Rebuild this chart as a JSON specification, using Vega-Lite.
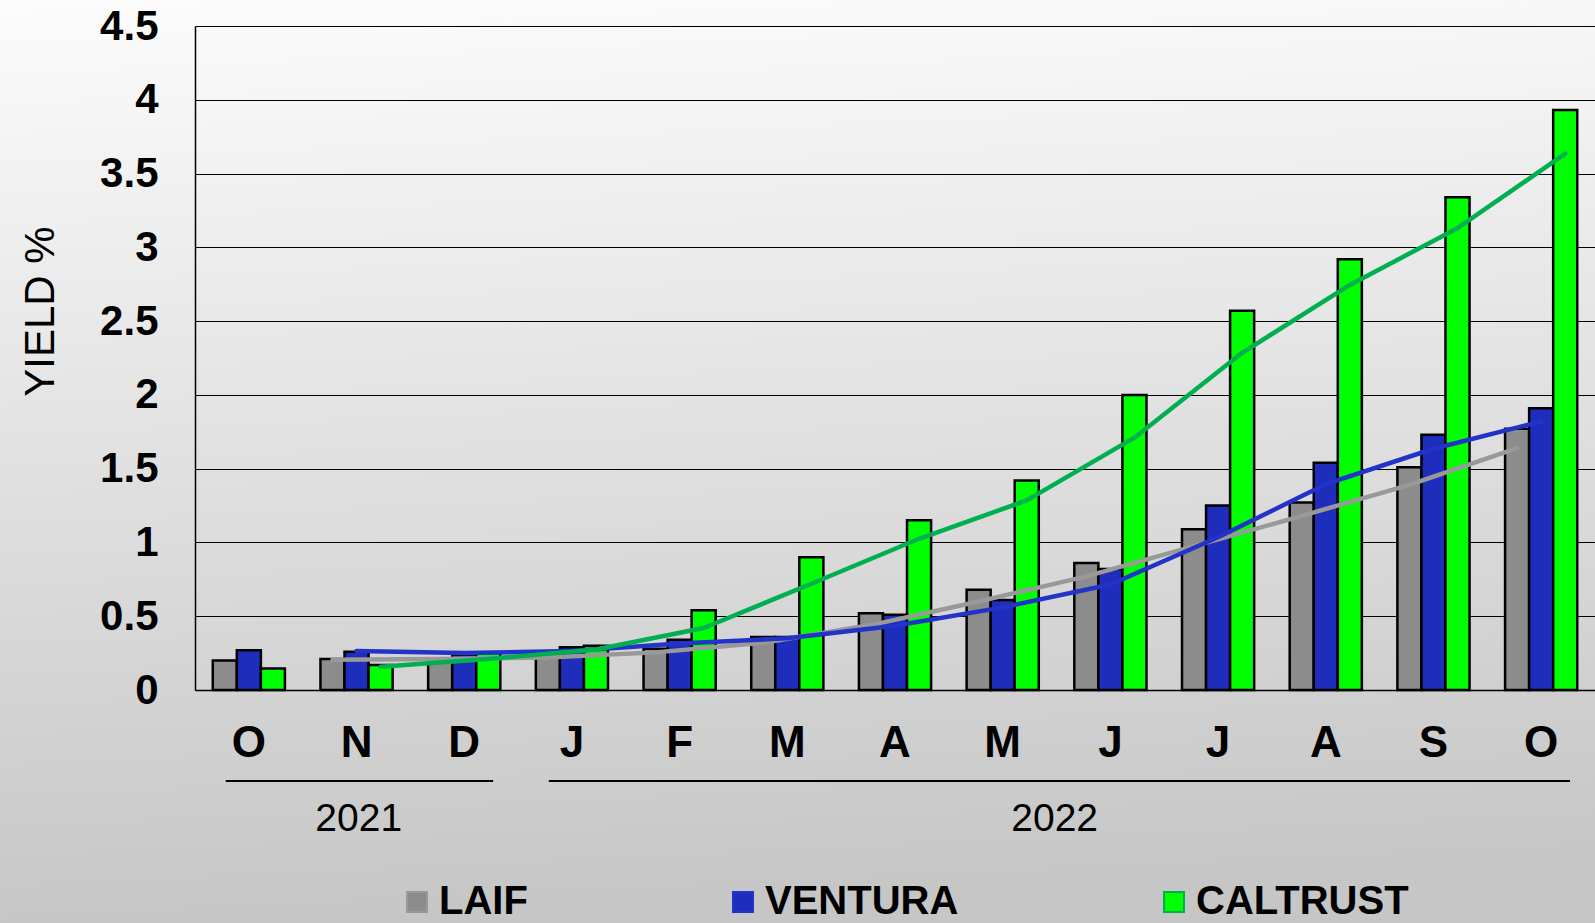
{
  "$schema": "https://vega.github.io/schema/vega-lite/v6.json",
  "autosize": {"type": "none"},
  "padding": 0,
  "width": 1595,
  "height": 923,
  "background": "#e0e0e0",
  "view": {
    "stroke": null,
    "fill": {
      "gradient": "linear",
      "x1": 0, "y1": 0, "x2": 0.08, "y2": 1,
      "stops": [
        {"offset": 0, "color": "#fcfcfc"},
        {"offset": 1, "color": "#c6c6c6"}
      ]
    }
  },
  "config": {
    "font": "Liberation Sans",
    "legend": {
      "orient": "none",
      "legendX": 397,
      "legendY": 882,
      "direction": "horizontal",
      "title": null,
      "labelFont": "Liberation Sans",
      "labelFontWeight": "bold",
      "labelFontSize": 40,
      "labelColor": "black",
      "labelOffset": 2,
      "labelLimit": 500,
      "symbolType": "square",
      "symbolSize": 400,
      "symbolStrokeColor": "black",
      "symbolStrokeWidth": 2,
      "symbolOpacity": 1,
      "columnPadding": 195,
      "padding": 0
    }
  },
  "datasets": {
    "yields": [
      {"idx": 1, "series": "LAIF", "value": 0.20},
      {"idx": 1, "series": "VENTURA", "value": 0.27},
      {"idx": 1, "series": "CALTRUST", "value": 0.145},
      {"idx": 2, "series": "LAIF", "value": 0.21},
      {"idx": 2, "series": "VENTURA", "value": 0.26},
      {"idx": 2, "series": "CALTRUST", "value": 0.17},
      {"idx": 3, "series": "LAIF", "value": 0.21},
      {"idx": 3, "series": "VENTURA", "value": 0.24},
      {"idx": 3, "series": "CALTRUST", "value": 0.25},
      {"idx": 4, "series": "LAIF", "value": 0.23},
      {"idx": 4, "series": "VENTURA", "value": 0.29},
      {"idx": 4, "series": "CALTRUST", "value": 0.30},
      {"idx": 5, "series": "LAIF", "value": 0.28},
      {"idx": 5, "series": "VENTURA", "value": 0.34},
      {"idx": 5, "series": "CALTRUST", "value": 0.54},
      {"idx": 6, "series": "LAIF", "value": 0.36},
      {"idx": 6, "series": "VENTURA", "value": 0.36},
      {"idx": 6, "series": "CALTRUST", "value": 0.90},
      {"idx": 7, "series": "LAIF", "value": 0.52},
      {"idx": 7, "series": "VENTURA", "value": 0.51},
      {"idx": 7, "series": "CALTRUST", "value": 1.15},
      {"idx": 8, "series": "LAIF", "value": 0.68},
      {"idx": 8, "series": "VENTURA", "value": 0.61},
      {"idx": 8, "series": "CALTRUST", "value": 1.42},
      {"idx": 9, "series": "LAIF", "value": 0.86},
      {"idx": 9, "series": "VENTURA", "value": 0.82},
      {"idx": 9, "series": "CALTRUST", "value": 2.00},
      {"idx": 10, "series": "LAIF", "value": 1.09},
      {"idx": 10, "series": "VENTURA", "value": 1.25},
      {"idx": 10, "series": "CALTRUST", "value": 2.57},
      {"idx": 11, "series": "LAIF", "value": 1.27},
      {"idx": 11, "series": "VENTURA", "value": 1.54},
      {"idx": 11, "series": "CALTRUST", "value": 2.92},
      {"idx": 12, "series": "LAIF", "value": 1.51},
      {"idx": 12, "series": "VENTURA", "value": 1.73},
      {"idx": 12, "series": "CALTRUST", "value": 3.34},
      {"idx": 13, "series": "LAIF", "value": 1.77},
      {"idx": 13, "series": "VENTURA", "value": 1.91},
      {"idx": 13, "series": "CALTRUST", "value": 3.93}
    ],
    "years": [
      {"year": "2021", "first": 1, "last": 3},
      {"year": "2022", "first": 4, "last": 13}
    ]
  },
  "layer": [
    {
      "data": {"name": "yields"},
      "mark": {"type": "bar", "stroke": "black", "strokeWidth": 2.5, "opacity": 1},
      "encoding": {
        "x": {
          "field": "idx",
          "type": "ordinal",
          "scale": {"paddingInner": 0.33, "paddingOuter": 0.165, "range": [195, 1595]},
          "axis": {
            "title": null,
            "offset": -233,
            "labelExpr": "['O','N','D','J','F','M','A','M','J','J','A','S','O'][datum.value - 1]",
            "labelAngle": 0,
            "labelFont": "Liberation Sans",
            "labelFontWeight": "bold",
            "labelFontSize": 44,
            "labelColor": "black",
            "labelPadding": 31,
            "labelBaseline": "top",
            "ticks": false,
            "tickSize": 0,
            "domain": true,
            "domainColor": "black",
            "domainWidth": 1.5,
            "grid": false
          }
        },
        "xOffset": {
          "field": "series",
          "type": "nominal",
          "sort": ["LAIF", "VENTURA", "CALTRUST"]
        },
        "y": {
          "field": "value",
          "type": "quantitative",
          "scale": {"domain": [0, 4.5], "nice": false, "zero": true, "range": [690, 26]},
          "axis": {
            "title": "YIELD %",
            "offset": -195,
            "titleFont": "Liberation Sans",
            "titleFontWeight": "normal",
            "titleFontSize": 42,
            "titleColor": "black",
            "titlePadding": 37,
            "titleY": 311,
            "values": [0, 0.5, 1, 1.5, 2, 2.5, 3, 3.5, 4, 4.5],
            "format": "~g",
            "labelFont": "Liberation Sans",
            "labelFontWeight": "bold",
            "labelFontSize": 42,
            "labelColor": "black",
            "labelPadding": 37,
            "labelFlush": false,
            "ticks": false,
            "tickSize": 0,
            "domain": true,
            "domainColor": "black",
            "domainWidth": 1.5,
            "grid": true,
            "gridColor": "black",
            "gridWidth": 1.2,
            "gridOpacity": 1
          }
        },
        "color": {
          "field": "series",
          "type": "nominal",
          "sort": ["LAIF", "VENTURA", "CALTRUST"],
          "scale": {
            "domain": ["LAIF", "VENTURA", "CALTRUST"],
            "range": ["#8c8c8c", "#1f2dbd", "#00ff00"]
          },
          "legend": {}
        }
      }
    },
    {
      "data": {"name": "yields"},
      "transform": [
        {
          "window": [
            {"op": "mean", "field": "value", "as": "trend"},
            {"op": "row_number", "as": "rn"}
          ],
          "frame": [-1, 0],
          "groupby": ["series"],
          "sort": [{"field": "idx", "order": "ascending"}]
        },
        {"filter": "datum.rn > 1"}
      ],
      "mark": {"type": "line", "strokeWidth": 4.5, "strokeCap": "round", "strokeJoin": "round"},
      "encoding": {
        "x": {"field": "idx", "type": "ordinal"},
        "xOffset": {"field": "series", "type": "nominal", "sort": ["LAIF", "VENTURA", "CALTRUST"]},
        "y": {"field": "trend", "type": "quantitative"},
        "stroke": {
          "field": "series",
          "type": "nominal",
          "scale": {
            "domain": ["LAIF", "VENTURA", "CALTRUST"],
            "range": ["#999999", "#2233c8", "#00b050"]
          },
          "legend": null
        }
      }
    },
    {
      "data": {"name": "years"},
      "mark": {"type": "rule", "color": "black", "strokeWidth": 2},
      "encoding": {
        "x": {"field": "first", "type": "ordinal", "bandPosition": 0.18},
        "x2": {"field": "last", "bandPosition": 0.9},
        "y": {"datum": -0.617, "type": "quantitative"}
      }
    },
    {
      "data": {"name": "years"},
      "transform": [{"filter": "datum.year == '2021'"}],
      "mark": {"type": "text", "font": "Liberation Sans", "fontSize": 39, "color": "black", "baseline": "middle", "align": "center"},
      "encoding": {
        "x": {"datum": 2, "type": "ordinal", "bandPosition": 0.53},
        "y": {"datum": -0.874, "type": "quantitative"},
        "text": {"field": "year"}
      }
    },
    {
      "data": {"name": "years"},
      "transform": [{"filter": "datum.year == '2022'"}],
      "mark": {"type": "text", "font": "Liberation Sans", "fontSize": 39, "color": "black", "baseline": "middle", "align": "center"},
      "encoding": {
        "x": {"datum": 8, "type": "ordinal", "bandPosition": 1.22},
        "y": {"datum": -0.874, "type": "quantitative"},
        "text": {"field": "year"}
      }
    }
  ]
}
